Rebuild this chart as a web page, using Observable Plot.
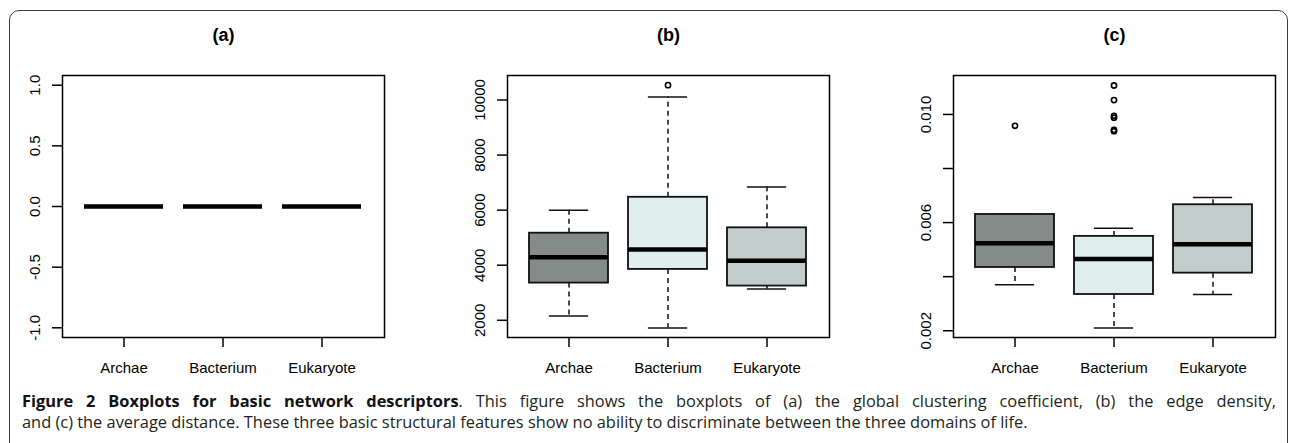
<!DOCTYPE html>
<html><head><meta charset="utf-8">
<script src="https://cdn.jsdelivr.net/npm/d3@7"></script>
<script src="https://cdn.jsdelivr.net/npm/@observablehq/plot@0.6"></script>
<style>
html,body{margin:0;padding:0;background:#fff;}
#root{position:relative;width:1290px;height:443px;overflow:hidden;background:#fff;}
#border{position:absolute;left:9px;top:10px;width:1279px;height:470px;border:1.6px solid #3a3a3a;border-radius:10px;box-sizing:border-box;}
.panel{position:absolute;top:0;}
#caption{position:absolute;left:22px;top:390px;width:1254px;font-family:"Open Sans",sans-serif;font-size:16.4px;color:#231f20;line-height:21px;}
#caption .l1{text-align:justify;text-align-last:justify;}
#caption b{font-weight:700;color:#111;}
</style>
</head><body>
<div id="root">
  <div id="border"></div>
  <div id="pa" class="panel" style="left:0px"></div>
  <div id="pb" class="panel" style="left:430px"></div>
  <div id="pc" class="panel" style="left:860px"></div>
  <div id="caption"></div>
</div>
<script>
// ---- data ----
const categories = ["Archae", "Bacterium", "Eukaryote"];
const boxFills = ["#858b89", "#e0eded", "#c2cccb"];
const panelTitles = ["(a)", "(b)", "(c)"];

// (a) global clustering coefficient (all zero)
const aLower = [0, 0, 0];
const aQ1 = [0, 0, 0];
const aMedian = [0, 0, 0];
const aQ3 = [0, 0, 0];
const aUpper = [0, 0, 0];
const aOutlierCats = [];
const aOutlierVals = [];
const aTicks = [-1, -0.5, 0, 0.5, 1];
const aTickLabels = ["-1.0", "-0.5", "0.0", "0.5", "1.0"];

// (b) edge density
const bLower = [2156, 1721, 3134];
const bQ1 = [3351, 3848, 3243];
const bMedian = [4293, 4572, 4163];
const bQ3 = [5163, 6467, 5358];
const bUpper = [6000, 10105, 6844];
const bOutlierCats = ["Bacterium"];
const bOutlierVals = [10540];
const bTicks = [2000, 4000, 6000, 8000, 10000];
const bTickLabels = ["2000", "4000", "6000", "8000", "10000"];

// (c) average distance
const cLower = [0.0037, 0.0021, 0.00334];
const cQ1 = [0.00434, 0.00334, 0.00413];
const cMedian = [0.00524, 0.00465, 0.0052];
const cQ3 = [0.0063, 0.00549, 0.00666];
const cUpper = [0.0063, 0.00579, 0.00693];
const cOutlierCats = ["Archae", "Bacterium", "Bacterium", "Bacterium", "Bacterium", "Bacterium", "Bacterium"];
const cOutlierVals = [0.00958, 0.01107, 0.01053, 0.00995, 0.00988, 0.00943, 0.00938];
const cTicks = [0.002, 0.004, 0.006, 0.008, 0.010];
const cTickLabels = ["0.002", "", "0.006", "", "0.010"];

const captionBold = "Figure 2 Boxplots for basic network descriptors";
const captionLine1 = ". This figure shows the boxplots of (a) the global clustering coefficient, (b) the edge density,";
const captionLine2 = "and (c) the average distance. These three basic structural features show no ability to discriminate between the three domains of life.";

// ---- drawing ----
const W = 430, H = 390, MT = 75, MB = 53;

function panel(el, cfg) {
  const rows = categories.map((c, i) => ({
    cat: c, lo: cfg.lower[i], q1: cfg.q1[i], med: cfg.median[i], q3: cfg.q3[i], hi: cfg.upper[i], fill: boxFills[i]
  }));
  const outs = cfg.outCats.map((c, i) => ({cat: c, value: cfg.outVals[i]}));
  const frameW = W - cfg.ml - cfg.mr;
  const step = frameW / 3.24;
  const bw = step * 0.8;
  const inset = bw / 4;
  const fmt = d => cfg.labels[cfg.ticks.indexOf(d)];
  const plot = Plot.plot({
    width: W, height: H,
    marginTop: MT, marginBottom: MB, marginLeft: cfg.ml, marginRight: cfg.mr,
    style: {fontFamily: "'Liberation Sans', Arial, sans-serif", fontSize: "15px", color: "#000", background: "transparent"},
    x: {type: "band", domain: categories, paddingInner: 0.2, paddingOuter: 0.22, align: 0.5},
    y: {domain: cfg.domain},
    color: {type: "identity"},
    marks: [
      Plot.ruleX(rows, {x: "cat", y1: "q3", y2: "hi", stroke: "#111", strokeWidth: 1.5, strokeDasharray: "5,4"}),
      Plot.ruleX(rows, {x: "cat", y1: "q1", y2: "lo", stroke: "#111", strokeWidth: 1.5, strokeDasharray: "5,4"}),
      Plot.tickY(rows, {x: "cat", y: "hi", insetLeft: inset, insetRight: inset, stroke: "#111", strokeWidth: 1.5}),
      Plot.tickY(rows, {x: "cat", y: "lo", insetLeft: inset, insetRight: inset, stroke: "#111", strokeWidth: 1.5}),
      Plot.barY(rows, {x: "cat", y1: "q1", y2: "q3", fill: "fill", stroke: "#111", strokeWidth: 1.8}),
      Plot.tickY(rows, {x: "cat", y: "med", stroke: "#000", strokeWidth: 4.5}),
      Plot.dot(outs, {x: "cat", y: "value", r: 2.6, stroke: "#000", strokeWidth: 1.6, fill: "none"}),
      Plot.frame({stroke: "#000", strokeWidth: 1.5}),
      Plot.axisX({tickSize: 10, tickPadding: 15, strokeWidth: 1.5, fontSize: 15, label: null}),
      Plot.axisY({ticks: cfg.ticks, tickFormat: fmt, tickRotate: -90, tickSize: 10, tickPadding: 13, strokeWidth: 1.5, fontSize: 15, label: null}),
      Plot.text([cfg.title], {frameAnchor: "top", dy: -40, text: d => d, fontWeight: "bold", fontSize: 18, lineAnchor: "middle"})
    ]
  });
  el.appendChild(plot);
}

panel(document.getElementById("pa"), {
  title: panelTitles[0], lower: aLower, q1: aQ1, median: aMedian, q3: aQ3, upper: aUpper,
  outCats: aOutlierCats, outVals: aOutlierVals, ticks: aTicks, labels: aTickLabels,
  domain: [-1.08, 1.08], ml: 62, mr: 46
});
panel(document.getElementById("pb"), {
  title: panelTitles[1], lower: bLower, q1: bQ1, median: bMedian, q3: bQ3, upper: bUpper,
  outCats: bOutlierCats, outVals: bOutlierVals, ticks: bTicks, labels: bTickLabels,
  domain: [1375, 10890], ml: 77, mr: 31
});
panel(document.getElementById("pc"), {
  title: panelTitles[2], lower: cLower, q1: cQ1, median: cMedian, q3: cQ3, upper: cUpper,
  outCats: cOutlierCats, outVals: cOutlierVals, ticks: cTicks, labels: cTickLabels,
  domain: [0.00175, 0.01144], ml: 93, mr: 15
});

const cap = document.getElementById("caption");
const l1 = document.createElement("div");
l1.className = "l1";
const b = document.createElement("b");
b.textContent = captionBold;
l1.appendChild(b);
l1.appendChild(document.createTextNode(captionLine1));
const l2 = document.createElement("div");
l2.textContent = captionLine2;
cap.appendChild(l1);
cap.appendChild(l2);
</script>
</body></html>
